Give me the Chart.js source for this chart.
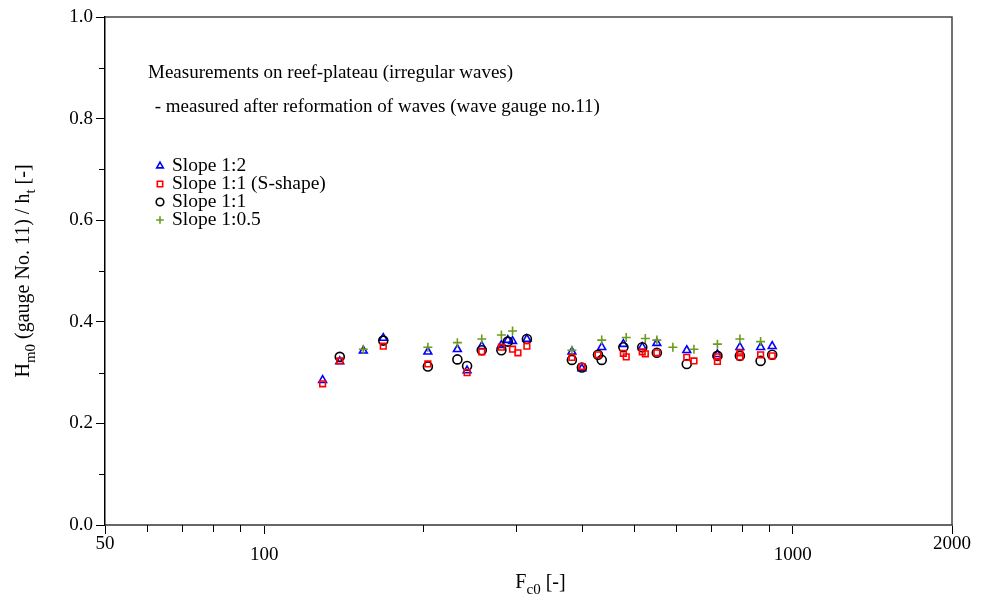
<!DOCTYPE html>
<html>
<head>
<meta charset="utf-8">
<script src="https://cdn.jsdelivr.net/npm/chart.js@4/dist/chart.umd.min.js"></script>
<style>
  html, body { margin: 0; padding: 0; background: #fff; }
  #wrap { width: 983px; height: 601px; }
</style>
</head>
<body>
<div id="wrap"><canvas id="myChart" width="983" height="601"></canvas></div>
<script>
// values
var slope12X = [129, 139, 154, 168, 204, 232, 242, 258, 281, 289, 295, 314, 382, 399, 435, 478, 519, 553, 630, 720, 794, 869, 914];
var slope12Y = [0.285, 0.322, 0.343, 0.368, 0.341, 0.346, 0.304, 0.352, 0.354, 0.364, 0.362, 0.366, 0.341, 0.308, 0.350, 0.356, 0.350, 0.358, 0.344, 0.336, 0.350, 0.350, 0.352];

var slope11sX = [129, 139, 168, 204, 242, 258, 281, 295, 302, 314, 382, 399, 428, 478, 484, 519, 526, 553, 630, 650, 720, 720, 794, 794, 869, 914];
var slope11sY = [0.278, 0.323, 0.352, 0.317, 0.300, 0.341, 0.350, 0.346, 0.339, 0.352, 0.330, 0.312, 0.335, 0.338, 0.331, 0.341, 0.337, 0.339, 0.330, 0.323, 0.331, 0.322, 0.339, 0.331, 0.335, 0.333];

var slope11X = [139, 168, 204, 232, 242, 258, 281, 289, 314, 382, 399, 428, 435, 478, 519, 553, 630, 720, 794, 869, 914];
var slope11Y = [0.331, 0.363, 0.312, 0.326, 0.313, 0.344, 0.344, 0.361, 0.366, 0.325, 0.310, 0.335, 0.325, 0.350, 0.350, 0.339, 0.317, 0.333, 0.333, 0.323, 0.335];

var slope105X = [154, 204, 232, 258, 281, 295, 382, 435, 484, 526, 553, 593, 650, 720, 794, 869];
var slope105Y = [0.346, 0.350, 0.359, 0.366, 0.374, 0.382, 0.344, 0.364, 0.369, 0.367, 0.364, 0.350, 0.346, 0.356, 0.366, 0.361];

var xTicks = [50, 60, 70, 80, 90, 100, 200, 300, 400, 500, 600, 700, 800, 900, 1000, 2000];
var xLabels = [50, 100, 1000, 2000];
var yMinor = [0.1, 0.3, 0.5, 0.7, 0.9];

var seriesNames = ['Slope 1:2', 'Slope 1:1 (S-shape)', 'Slope 1:1', 'Slope 1:0.5'];
var seriesColors = ['#0000ff', '#ff0000', '#000000', '#6b9a1c'];
var seriesStyles = ['triangle', 'rect', 'circle', 'cross'];

var noteLines = ['Measurements on reef-plateau (irregular waves)', ' - measured after reformation of waves (wave gauge no.11)'];

var FONT = '"Liberation Serif", "Times New Roman", serif';

function pts(xs, ys) {
  return xs.map(function (x, i) { return { x: x, y: ys[i] }; });
}

function makeSet(i, xs, ys, order) {
  return {
    label: seriesNames[i],
    data: pts(xs, ys),
    pointStyle: seriesStyles[i],
    borderColor: seriesColors[i],
    backgroundColor: 'rgba(0,0,0,0)',
    pointBorderWidth: 1.6,
    pointRadius: seriesStyles[i] === 'rect' ? 4 : 4.5,
    pointHoverRadius: 4,
    showLine: false,
    order: order
  };
}

// text with subscripts: segments [text, isSub]
function drawRich(ctx, segs, size) {
  var subSize = Math.round(size * 0.75);
  var w = 0;
  segs.forEach(function (s) {
    ctx.font = (s[1] ? subSize : size) + 'px ' + FONT;
    w += ctx.measureText(s[0]).width;
  });
  var x = -w / 2;
  ctx.textBaseline = 'alphabetic';
  ctx.textAlign = 'left';
  segs.forEach(function (s) {
    ctx.font = (s[1] ? subSize : size) + 'px ' + FONT;
    ctx.fillText(s[0], x, s[1] ? size * 0.3 : 0);
    x += ctx.measureText(s[0]).width;
  });
}

var decor = {
  id: 'decor',
  afterDraw: function (chart) {
    var ctx = chart.ctx;
    var a = chart.chartArea;
    var xs = chart.scales.x, ys = chart.scales.y;
    ctx.save();

    // frame
    ctx.lineWidth = 1.5;
    ctx.strokeStyle = '#444';
    ctx.beginPath();
    ctx.moveTo(a.left, a.top); ctx.lineTo(a.right, a.top); ctx.lineTo(a.right, a.bottom);
    ctx.stroke();

    // minor ticks
    ctx.strokeStyle = '#000';
    ctx.lineWidth = 1;
    yMinor.forEach(function (v) {
      var p = Math.round(ys.getPixelForValue(v)) + 0.5;
      ctx.beginPath(); ctx.moveTo(a.left - 6, p); ctx.lineTo(a.left, p); ctx.stroke();
    });
    xTicks.forEach(function (v) {
      if (xLabels.indexOf(v) >= 0) return;
      var p = Math.round(xs.getPixelForValue(v)) + 0.5;
      ctx.beginPath(); ctx.moveTo(p, a.bottom); ctx.lineTo(p, a.bottom + 7); ctx.stroke();
    });

    // axis titles
    ctx.fillStyle = '#000';
    ctx.save();
    ctx.translate((a.left + a.right) / 2 + 12, 588);
    drawRich(ctx, [['F', 0], ['c0', 1], [' [-]', 0]], 20);
    ctx.restore();

    ctx.save();
    ctx.translate(29, (a.top + a.bottom) / 2);
    ctx.rotate(-Math.PI / 2);
    drawRich(ctx, [['H', 0], ['m0', 1], [' (gauge No. 11) / h', 0], ['t', 1], [' [-]', 0]], 20);
    ctx.restore();

    // notes
    ctx.textAlign = 'left';
    ctx.textBaseline = 'middle';
    ctx.font = '19px ' + FONT;
    ctx.fillText(noteLines[0], 148, 73);
    ctx.fillText(noteLines[1], 150, 107);

    // legend
    chart.data.datasets.forEach(function (ds, i) {
      var y = 166 + i * 18;
      ctx.strokeStyle = ds.borderColor;
      ctx.fillStyle = 'rgba(0,0,0,0)';
      ctx.lineWidth = 1.6;
      Chart.helpers.drawPoint(ctx, { pointStyle: ds.pointStyle, radius: 3.8, rotation: 0, borderWidth: 1.6 }, 160, y);
      ctx.fillStyle = '#000';
      ctx.font = '19.5px ' + FONT;
      ctx.fillText(ds.label, 172, y);
    });

    ctx.restore();
  }
};

new Chart(document.getElementById('myChart'), {
  type: 'scatter',
  data: {
    datasets: [
      makeSet(0, slope12X, slope12Y, 3),
      makeSet(1, slope11sX, slope11sY, 0),
      makeSet(2, slope11X, slope11Y, 1),
      makeSet(3, slope105X, slope105Y, 2)
    ]
  },
  options: {
    responsive: false,
    animation: false,
    layout: { padding: { left: 0, top: 17, right: 31, bottom: 0 } },
    plugins: { legend: { display: false }, tooltip: { enabled: false } },
    scales: {
      x: {
        type: 'logarithmic',
        min: 50,
        max: 2000,
        afterBuildTicks: function (s) {
          s.ticks = xTicks.map(function (v) { return { value: v, major: xLabels.indexOf(v) >= 0 }; });
        },
        afterFit: function (s) { s.height = 76; },
        border: { color: '#666', width: 2 },
        grid: {
          drawOnChartArea: false,
          tickLength: 9,
          tickWidth: 1,
          tickColor: function (c) { return xLabels.indexOf(c.tick.value) >= 0 ? '#000' : 'rgba(0,0,0,0)'; }
        },
        ticks: {
          autoSkip: false,
          maxRotation: 0,
          padding: 4,
          color: '#000',
          font: { family: FONT, size: 19, lineHeight: 0.6 },
          callback: function (v) {
            if (v === 100 || v === 1000) return ['', String(v)];
            if (v === 50 || v === 2000) return String(v);
            return '';
          }
        }
      },
      y: {
        min: 0,
        max: 1,
        afterFit: function (s) { s.width = 105; },
        border: { color: '#000', width: 1.5 },
        grid: { drawOnChartArea: false, tickLength: 9, tickColor: '#000' },
        ticks: {
          stepSize: 0.2,
          padding: 3,
          color: '#000',
          font: { family: FONT, size: 19 },
          callback: function (v) { return v.toFixed(1); }
        }
      }
    }
  },
  plugins: [decor]
});
</script>
</body>
</html>
